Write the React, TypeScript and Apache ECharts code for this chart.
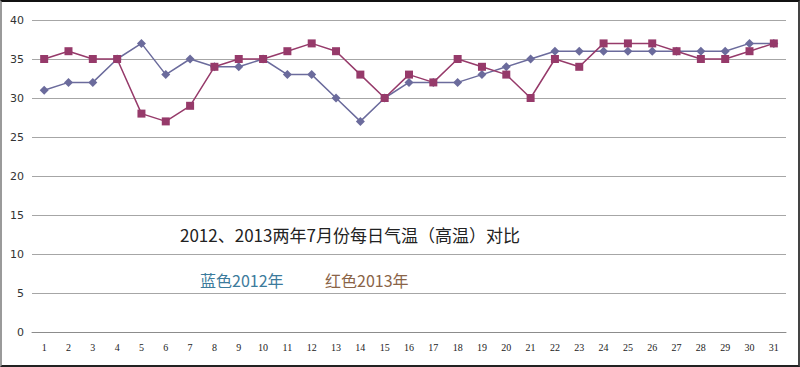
import React, { useEffect, useRef } from "react";
import * as echarts from "echarts";

const days: string[] = [
  "1","2","3","4","5","6","7","8","9","10","11","12","13","14","15","16",
  "17","18","19","20","21","22","23","24","25","26","27","28","29","30","31",
];
const temps2012: number[] = [31,32,32,35,37,33,35,34,34,35,33,33,30,27,30,32,32,32,33,34,35,36,36,36,36,36,36,36,36,37,37];
const temps2013: number[] = [35,36,35,35,28,27,29,34,35,35,36,37,36,33,30,33,32,35,34,33,30,35,34,37,37,37,36,35,35,36,37];
const titleText = "2012、2013两年7月份每日气温（高温）对比";
const legend2012 = "蓝色2012年";
const legend2013 = "红色2013年";

export default function App() {
  const ref = useRef<HTMLDivElement>(null);
  useEffect(() => {
    if (!ref.current) return;
    const chart = echarts.init(ref.current, null, { renderer: "svg" });
    chart.setOption({
      animation: false,
      backgroundColor: "#ffffff",
      grid: { left: 32, right: 14, top: 20, bottom: 35 },
      xAxis: {
        type: "category",
        data: days,
        boundaryGap: true,
        axisLine: { show: true, lineStyle: { color: "#8c8c8c", width: 1 } },
        axisTick: { show: false },
        axisLabel: {
          color: "#222",
          fontSize: 10,
          fontFamily: "Liberation Serif, DejaVu Serif, serif",
          margin: 10,
          interval: 0,
        },
      },
      yAxis: {
        type: "value",
        min: 0,
        max: 40,
        interval: 5,
        axisLine: { show: false },
        axisTick: { show: false },
        axisLabel: {
          color: "#333",
          fontSize: 11,
          fontFamily: "DejaVu Sans, sans-serif",
          margin: 8,
        },
        splitLine: { lineStyle: { color: "#a6a6a6", width: 1.2 } },
      },
      series: [
        {
          name: "2012",
          type: "line",
          data: temps2012,
          symbol: "diamond",
          symbolSize: 9,
          lineStyle: { color: "#6b6b9c", width: 1.5 },
          itemStyle: { color: "#6b6b9c" },
        },
        {
          name: "2013",
          type: "line",
          data: temps2013,
          symbol: "rect",
          symbolSize: 8,
          lineStyle: { color: "#963a6a", width: 1.5 },
          itemStyle: { color: "#963a6a" },
        },
      ],
      graphic: [
        {
          type: "text",
          left: 180,
          top: 226,
          style: {
            text: titleText,
            fill: "#222",
            font: "17px 'Noto Sans CJK SC', sans-serif",
          },
        },
        {
          type: "text",
          left: 200,
          top: 272,
          style: {
            text: legend2012,
            fill: "#3c7b9c",
            font: "16px 'Noto Sans CJK SC', sans-serif",
          },
        },
        {
          type: "text",
          left: 325,
          top: 272,
          style: {
            text: legend2013,
            fill: "#8a6447",
            font: "16px 'Noto Sans CJK SC', sans-serif",
          },
        },
      ],
    });
    return () => chart.dispose();
  }, []);
  return (
    <div style={{ position: "fixed", left: 0, top: 0, width: 800, height: 367 }}>
      <div ref={ref} style={{ position: "absolute", left: 0, top: 0, width: 800, height: 367 }} />
      <div
        style={{
          position: "absolute",
          left: 0,
          top: 0,
          width: 800,
          height: 367,
          boxSizing: "border-box",
          borderTop: "2px solid #111",
          borderBottom: "2px solid #222",
          borderRight: "2px solid #444",
          borderLeft: "2px solid #9a9a9a",
          pointerEvents: "none",
        }}
      />
    </div>
  );
}
